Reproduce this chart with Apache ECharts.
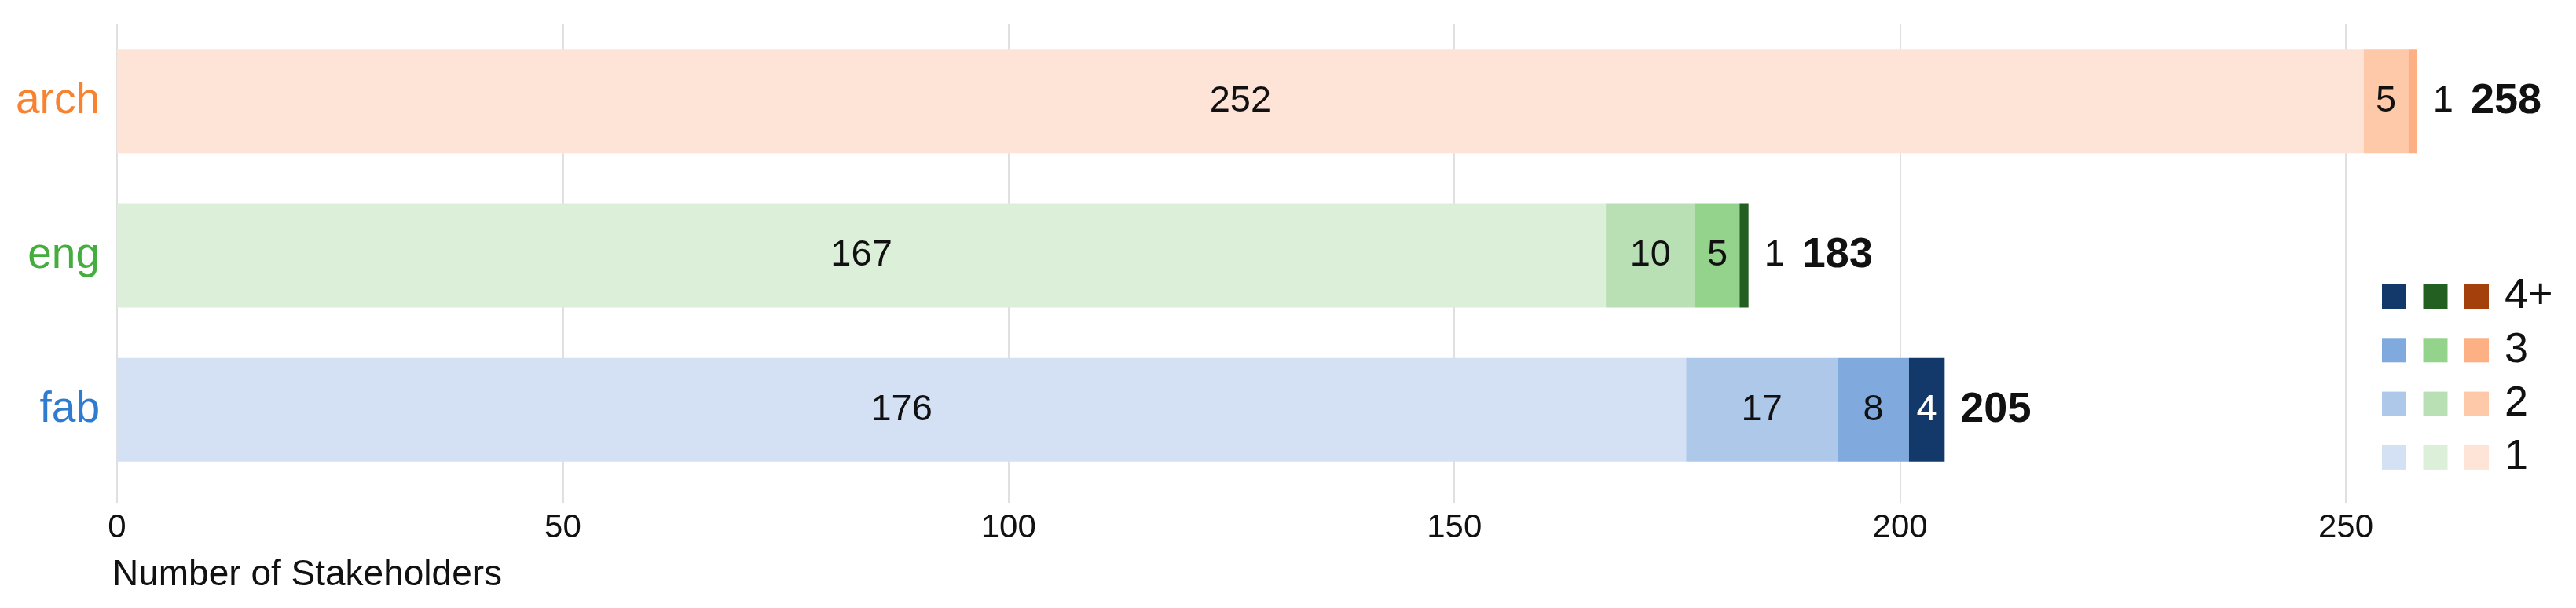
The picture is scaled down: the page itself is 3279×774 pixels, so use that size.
<!DOCTYPE html>
<html>
<head>
<meta charset="utf-8">
<script src="https://cdn.jsdelivr.net/npm/echarts@6/dist/echarts.min.js"></script>
<style>
  html, body { margin: 0; padding: 0; background: #fff; }
  #chart { width: 3279px; height: 774px; }
</style>
</head>
<body>
<div id="chart"></div>
<script>
// data
const categories = ['arch', 'eng', 'fab'];
const levelNames = ['1', '2', '3', '4+'];
const level1 = [252, 167, 176];
const level2 = [5, 10, 17];
const level3 = [1, 5, 8];
const level4 = [0, 1, 4];
const totals = [258, 183, 205];

const catColors = ['#f8822f', '#43ad3e', '#2e7bd0'];
const archShades = ['#fee4d7', '#fdc9a9', '#fdb084', '#a3400b'];
const engShades = ['#dcefd9', '#b9e0b4', '#94d38b', '#245f22'];
const fabShades = ['#d4e1f4', '#aec8ea', '#80a9de', '#13396b'];

const levels = [level1, level2, level3, level4];
const shades = [archShades, engShades, fabShades];

const FONT = "'Liberation Sans', Arial, sans-serif";
const SMALL = 2; // segments below this get their label outside the bar

const chart = echarts.init(document.getElementById('chart'));

// last non-empty segment, if it is too thin for its own label
function outsideValue(i) {
  for (let l = levels.length - 1; l >= 0; l--) {
    const v = levels[l][i];
    if (v > 0) return v < SMALL ? v : null;
  }
  return null;
}

// dark segments get white text
function isDark(hex) {
  const n = parseInt(hex.slice(1), 16);
  const r = n >> 16, g = (n >> 8) & 255, b = n & 255;
  return 0.299 * r + 0.587 * g + 0.114 * b < 110;
}

const series = levels.map((vals, l) => ({
  name: levelNames[l],
  type: 'bar',
  stack: 'all',
  barWidth: 132,
  barGap: '-100%',
  clip: false,
  data: vals.map((v, i) => ({
    value: v,
    itemStyle: { color: shades[i][l] },
    label: {
      show: v >= SMALL,
      color: isDark(shades[i][l]) ? '#fff' : '#111'
    }
  })),
  label: {
    position: 'inside',
    fontFamily: FONT,
    fontSize: 47,
    formatter: '{c}'
  },
  emphasis: { disabled: true }
}));

series.push({
  name: 'total',
  type: 'bar',
  barWidth: 132,
  barGap: '-100%',
  clip: false,
  data: totals,
  itemStyle: { color: 'rgba(0,0,0,0)' },
  label: {
    show: true,
    position: 'right',
    distance: 20,
    formatter: p => {
      const v = outsideValue(p.dataIndex);
      return (v !== null ? '{s|' + v + '}' : '') + '{b|' + p.value + '}';
    },
    rich: {
      s: { fontFamily: FONT, fontSize: 47, color: '#111', padding: [0, 22, 0, 0] },
      b: { fontFamily: FONT, fontSize: 54, fontWeight: 'bold', color: '#111' }
    }
  },
  emphasis: { disabled: true }
});

// legend: 3 columns (fab, eng, arch) x 4 rows (4+ at top)
const legendCols = [fabShades, engShades, archShades];
const legendGfx = [];
const lx = 3032, ly = 362, sq = 31, colStep = 52.5, rowStep = 68.3;
for (let r = 0; r < levelNames.length; r++) {
  const l = levelNames.length - 1 - r;
  legendCols.forEach((pal, c) => {
    legendGfx.push({
      type: 'rect',
      shape: { x: lx + c * colStep, y: ly + r * rowStep, width: sq, height: sq },
      style: { fill: pal[l] }
    });
  });
  legendGfx.push({
    type: 'text',
    x: 3188,
    y: ly + r * rowStep + sq / 2,
    style: {
      text: levelNames[l],
      font: '54px ' + FONT,
      fill: '#111',
      textVerticalAlign: 'middle'
    }
  });
}

chart.setOption({
  animation: false,
  backgroundColor: '#fff',
  title: {
    text: 'Number of Stakeholders',
    left: 138,
    top: 704,
    textStyle: { fontFamily: FONT, fontSize: 46, fontWeight: 'normal', color: '#111' }
  },
  grid: { left: 149, right: 293, top: 31, bottom: 154 },
  xAxis: {
    type: 'value',
    min: 0,
    max: 250,
    interval: 50,
    axisLine: { show: false },
    axisTick: { show: true, length: 20, lineStyle: { color: '#e0e0e0', width: 2 } },
    splitLine: { show: true, lineStyle: { color: '#e0e0e0', width: 2 } },
    axisLabel: { fontFamily: FONT, fontSize: 42, color: '#111', margin: 31 }
  },
  yAxis: {
    type: 'category',
    data: categories,
    inverse: true,
    axisLine: { show: false },
    axisTick: { show: false },
    axisLabel: {
      fontFamily: FONT,
      fontSize: 55,
      margin: 22,
      color: (v, i) => catColors[i]
    }
  },
  series: series,
  graphic: legendGfx
});
</script>
</body>
</html>
